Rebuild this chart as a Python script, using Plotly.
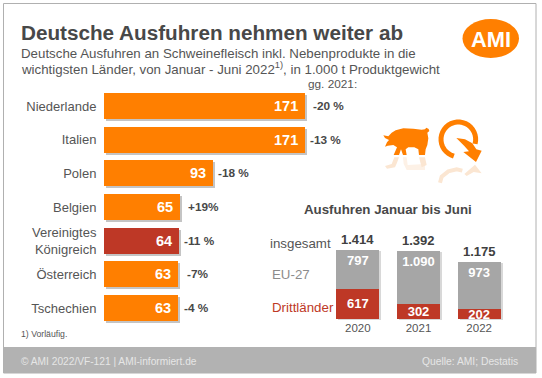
import math
import plotly.graph_objects as go

countries = ["Niederlande", "Italien", "Polen", "Belgien", "Vereinigtes<br>Königreich", "Österreich", "Tschechien"]
country_values = [171, 171, 93, 65, 64, 63, 63]
country_changes = ["-20 %", "-13 %", "-18 %", "+19%", "-11 %", "-7%", "-4 %"]
country_colors = ["#FF7F00", "#FF7F00", "#FF7F00", "#FF7F00", "#BE3826", "#FF7F00", "#FF7F00"]
change_dx = [6, 3, 3, 6, 3, 7, 4]

years = ["2020", "2021", "2022"]
third = [617, 302, 202]
eu27 = [797, 1090, 973]
total_labels = ["1.414", "1.392", "1.175"]
eu_labels = ["797", "1.090", "973"]

W, H = 542, 378
FONT = "Liberation Sans, Arial, sans-serif"
ORANGE = "#FF7F00"
RED = "#BE3826"
GRAY = "#A6A6A6"
DARK = "#404040"
MID = "#555555"
PALE = "#FBE6D2"

def px(x): return x / W
def py(y): return 1 - y / H

LEFT_X0, LEFT_X1 = 104, 305
LEFT_Y0, LEFT_Y1 = 89.15, 325
R_X0, R_X1 = 327.5, 509.5
R_Y0, R_Y1 = 319, 250
SH = 2

fig = go.Figure()

def left_trace(colors, xa, ya):
    return go.Bar(y=countries, x=country_values, orientation="h", width=0.77,
                  marker=dict(color=colors, line_width=0),
                  xaxis=xa, yaxis=ya, hoverinfo="skip", showlegend=False)

def right_traces(xa, ya, c1, c2, labels=(None, None)):
    out = []
    for vals, col, lab, anchor in ((third, c1, labels[0], "middle"), (eu27, c2, labels[1], "end")):
        t = go.Bar(x=years, y=vals, width=0.71, marker=dict(color=col, line_width=0), xaxis=xa, yaxis=ya,
                   hoverinfo="skip", showlegend=False)
        if lab:
            t.text = lab
            t.textposition = "inside"
            t.insidetextanchor = anchor
            t.constraintext = "none"
            t.textangle = 0
            t.textfont = dict(family=FONT, size=13, color="white")
            t.texttemplate = "<b>%{text}</b>"
        out.append(t)
    return out

# soft shadows on their own offset axes, drawn first
fig.add_trace(left_trace(["#C4C4C4"] * len(countries), "x", "y"))
for t in right_traces("x2", "y2", "#D8D8D8", "#D8D8D8"):
    fig.add_trace(t)

# main marks
fig.add_trace(left_trace(country_colors, "x3", "y3"))
for t in right_traces("x4", "y4", RED, GRAY, ([str(v) for v in third], eu_labels)):
    fig.add_trace(t)

xr = [0, 171]
ymax_r = 1414
common = dict(showgrid=False, zeroline=False, showline=False)
axes = dict(
    xaxis=dict(domain=[px(LEFT_X0 + SH), px(LEFT_X1 + SH)], range=xr, visible=False, anchor="y", **common),
    yaxis=dict(domain=[py(LEFT_Y1 + SH), py(LEFT_Y0 + SH)], type="category", autorange="reversed", visible=False, anchor="x", **common),
    xaxis2=dict(domain=[px(R_X0 + SH), px(R_X1 + SH)], type="category", range=[-0.5, 2.5], visible=False, anchor="y2", **common),
    yaxis2=dict(domain=[py(R_Y0 + 1), py(R_Y1 + 1)], range=[0, ymax_r], visible=False, anchor="x2", **common),
    xaxis3=dict(domain=[px(LEFT_X0), px(LEFT_X1)], range=xr, visible=False, anchor="y3", **common),
    yaxis3=dict(domain=[py(LEFT_Y1), py(LEFT_Y0)], type="category", autorange="reversed", anchor="x3", ticks="outside", ticklen=4,
                tickcolor="rgba(0,0,0,0)", tickfont=dict(family=FONT, size=13, color=MID), **common),
    xaxis4=dict(domain=[px(R_X0), px(R_X1)], type="category", range=[-0.5, 2.5], anchor="y4", ticks="", 
                tickfont=dict(family=FONT, size=11.5, color=MID), **common),
    yaxis4=dict(domain=[py(R_Y0), py(R_Y1)], range=[0, ymax_r], visible=False, anchor="x4", **common),
)

ann = []
def text(x, y, s, size, color=DARK, anchor="left", bold=False):
    ann.append(dict(x=px(x), y=py(y), xref="paper", yref="paper", text=f"<b>{s}</b>" if bold else s, showarrow=False,
                    xanchor=anchor, yanchor="middle", align=anchor, borderpad=0,
                    font=dict(family=FONT, size=size, color=color)))

text(20, 32, "Deutsche Ausfuhren nehmen weiter ab", 20.7, "#484848", bold=True)
text(20, 54, "Deutsche Ausfuhren an Schweinefleisch inkl. Nebenprodukte in die", 13.3, MID)
text(20, 68, "wichtigsten Länder, von Januar - Juni 2022<sup>1)</sup>, in 1.000 t Produktgewicht", 13.3, MID)
text(307, 84.5, "gg. 2021:", 11.8, MID)
text(20, 334, "1) Vorläufig.", 8.7, MID)
text(20, 361, "© AMI 2022/VF-121 | AMI-informiert.de", 10.2, "#E6E6E6")
text(519, 361, "Quelle: AMI; Destatis", 10.3, "#E6E6E6", anchor="right")
text(388, 209.5, "Ausfuhren Januar bis Juni", 13.3, "#484848", anchor="center", bold=True)
text(269, 243, "insgesamt", 13.3, MID)
text(271, 274, "EU-27", 13.3, "#8C8C8C")
text(271, 307.5, "Drittländer", 13.3, RED)
text(490.5, 39.5, "AMI", 21.8, "white", anchor="center", bold=True)

for i, (c, v, d) in enumerate(zip(country_changes, country_values, change_dx)):
    ann.append(dict(x=v, y=i, xref="x3", yref="y3", text=f"<b>{c}</b>", showarrow=False, xanchor="left", yanchor="middle",
                    xshift=d, font=dict(family=FONT, size=11.8, color="#484848")))
    ann.append(dict(x=v, y=i, xref="x3", yref="y3", text=f"<b>{v}</b>", showarrow=False, xanchor="right", yanchor="middle",
                    xshift=-5, font=dict(family=FONT, size=14.5, color="white")))
for i, lab in enumerate(total_labels):
    ann.append(dict(x=i, y=third[i] + eu27[i], xref="x4", yref="y4", text=f"<b>{lab}</b>", showarrow=False, xanchor="center",
                    yanchor="bottom", yshift=1, font=dict(family=FONT, size=13, color="#404040")))

shapes = [
    dict(type="rect", xref="paper", yref="paper", x0=px(3.5), x1=px(536), y0=py(373), y1=py(3.5), line=dict(color="#B0B0B0", width=1), fillcolor="white", layer="below"),
    dict(type="rect", xref="paper", yref="paper", x0=px(3.5), x1=px(536), y0=py(373), y1=py(347), line_width=0, fillcolor="#B2B2B2", layer="below"),
    dict(type="circle", xref="paper", yref="paper", x0=px(462.5), x1=px(519), y0=py(58), y1=py(19), line_width=0, fillcolor=ORANGE, layer="below"),
]

def crop(cx, cy):
    return (375 + cx / 3, 110 + cy / 3)

def path(points, fill=None, line=None, width=0, closed=True):
    pts = [crop(*p) for p in points]
    d = "M " + " L ".join(f"{px(x):.5f},{py(y):.5f}" for x, y in pts) + (" Z" if closed else "")
    return dict(type="path", xref="paper", yref="paper", path=d, fillcolor=fill or "rgba(0,0,0,0)",
                line=dict(color=line or fill, width=width), layer="below")

pig = [(25,76),(40,79),(50,68),(62,61),(85,55),(115,56),(140,59),(150,58),(154,53),(161,57),(163,63),(157,68),
       (160,85),(157,105),(152,118),(150,135),(132,135),(130,118),(118,112),(100,112),(92,118),(95,135),(84,135),
       (78,118),(72,135),(56,135),(66,112),(55,105),(38,107),(30,110),(36,97),(42,90),(30,84)]
shapes.append(path(pig, fill=ORANGE))
# faded reflections beneath the icons
shapes.append(path([(58,142),(72,142),(66,158),(60,172),(36,176),(30,168),(50,162)], fill=PALE))
shapes.append(path([(84,142),(95,142),(98,165),(150,162),(150,180),(95,180),(86,162)], fill="#FDF1E6"))
shapes.append(path([(132,142),(150,142),(155,165),(140,172)], fill=PALE))

# circular arrow: ring, then the curved arrow with its head
cx, cy, r = 250, 88, 52
ring = [(cx + r * math.cos(math.radians(a)), cy + r * math.sin(math.radians(a))) for a in range(15, -265, -10)]
shapes.append(path(ring, line=ORANGE, width=5, closed=False))
shapes.append(path([(244,84),(270,88),(292,100),(304,118),(320,122),(303,156),(265,126),(282,124),(268,108)], fill=ORANGE))
# reflection of the ring and arrow
shapes.append(path([(195,218),(200,200),(220,184),(245,178),(262,182)], line=PALE, width=4, closed=False))
shapes.append(path([(268,192),(300,164),(320,190),(296,186),(275,198)], fill=PALE))

fig.update_layout(width=W, height=H, margin=dict(l=0, r=0, t=0, b=0), paper_bgcolor="white", plot_bgcolor="rgba(0,0,0,0)",
                  barmode="stack", annotations=ann, shapes=shapes, font=dict(family=FONT), **axes)
fig.write_html("out.html", config=dict(displayModeBar=False), post_script="document.body.style.margin='0';")
